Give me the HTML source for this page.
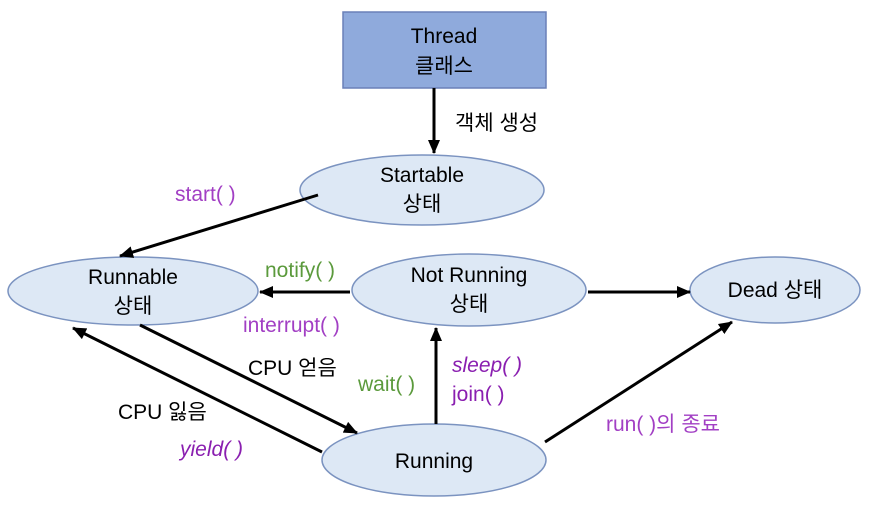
<!DOCTYPE html>
<html><head><meta charset="utf-8"><style>
body{margin:0;background:#fff}
svg text{font-family:"Liberation Sans","Noto Sans CJK KR",sans-serif;font-size:21px}
</style></head><body>
<svg width="889" height="501" viewBox="0 0 889 501" xmlns="http://www.w3.org/2000/svg">
<defs><marker id="a" markerWidth="14" markerHeight="12" refX="13" refY="6" orient="auto" markerUnits="userSpaceOnUse"><path d="M0,0 L14,6 L0,12 z" fill="#000"/></marker></defs>
<rect x="343" y="12" width="203" height="76" fill="#8faadc" stroke="#6a80b8" stroke-width="1.5"/>
<text x="444" y="43" text-anchor="middle">Thread</text>
<text x="444" y="73" text-anchor="middle">클래스</text>
<g fill="#dde8f5" stroke="#7b93c0" stroke-width="1.5">
<ellipse cx="422" cy="190" rx="122" ry="35"/>
<ellipse cx="133" cy="291" rx="125" ry="34"/>
<ellipse cx="469" cy="290" rx="117" ry="36"/>
<ellipse cx="775" cy="290" rx="85" ry="33"/>
<ellipse cx="434" cy="460" rx="112" ry="36"/>
</g>
<g stroke="#000" stroke-width="3" marker-end="url(#a)">
<line x1="434" y1="88" x2="434" y2="153"/>
<line x1="318" y1="195" x2="120" y2="256"/>
<line x1="350" y1="292" x2="260" y2="292"/>
<line x1="588" y1="292" x2="690" y2="292"/>
<line x1="140" y1="325" x2="357" y2="433"/>
<line x1="322" y1="452" x2="73" y2="328"/>
<line x1="436" y1="424" x2="436" y2="328"/>
<line x1="545" y1="442" x2="732" y2="322"/>
</g>
<text x="455" y="130">객체 생성</text>
<text x="422" y="182" text-anchor="middle">Startable</text>
<text x="422" y="211" text-anchor="middle">상태</text>
<text x="133" y="284" text-anchor="middle">Runnable</text>
<text x="133" y="313" text-anchor="middle">상태</text>
<text x="469" y="282" text-anchor="middle">Not Running</text>
<text x="469" y="311" text-anchor="middle">상태</text>
<text x="775" y="297" text-anchor="middle">Dead 상태</text>
<text x="434" y="468" text-anchor="middle">Running</text>
<text x="175" y="201" fill="#a23fc4">start( )</text>
<text x="265" y="277" fill="#5b9a3c">notify( )</text>
<text x="243" y="332" fill="#a23fc4">interrupt( )</text>
<text x="248" y="375">CPU 얻음</text>
<text x="358" y="391" fill="#5b9a3c">wait( )</text>
<text x="452" y="372" fill="#8a1fb0" font-style="italic">sleep( )</text>
<text x="452" y="401" fill="#8a1fb0">join( )</text>
<text x="118" y="419">CPU 잃음</text>
<text x="180" y="456" fill="#8a1fb0" font-style="italic">yield( )</text>
<text x="606" y="431" fill="#a23fc4">run( )의 종료</text>
</svg>
</body></html>
